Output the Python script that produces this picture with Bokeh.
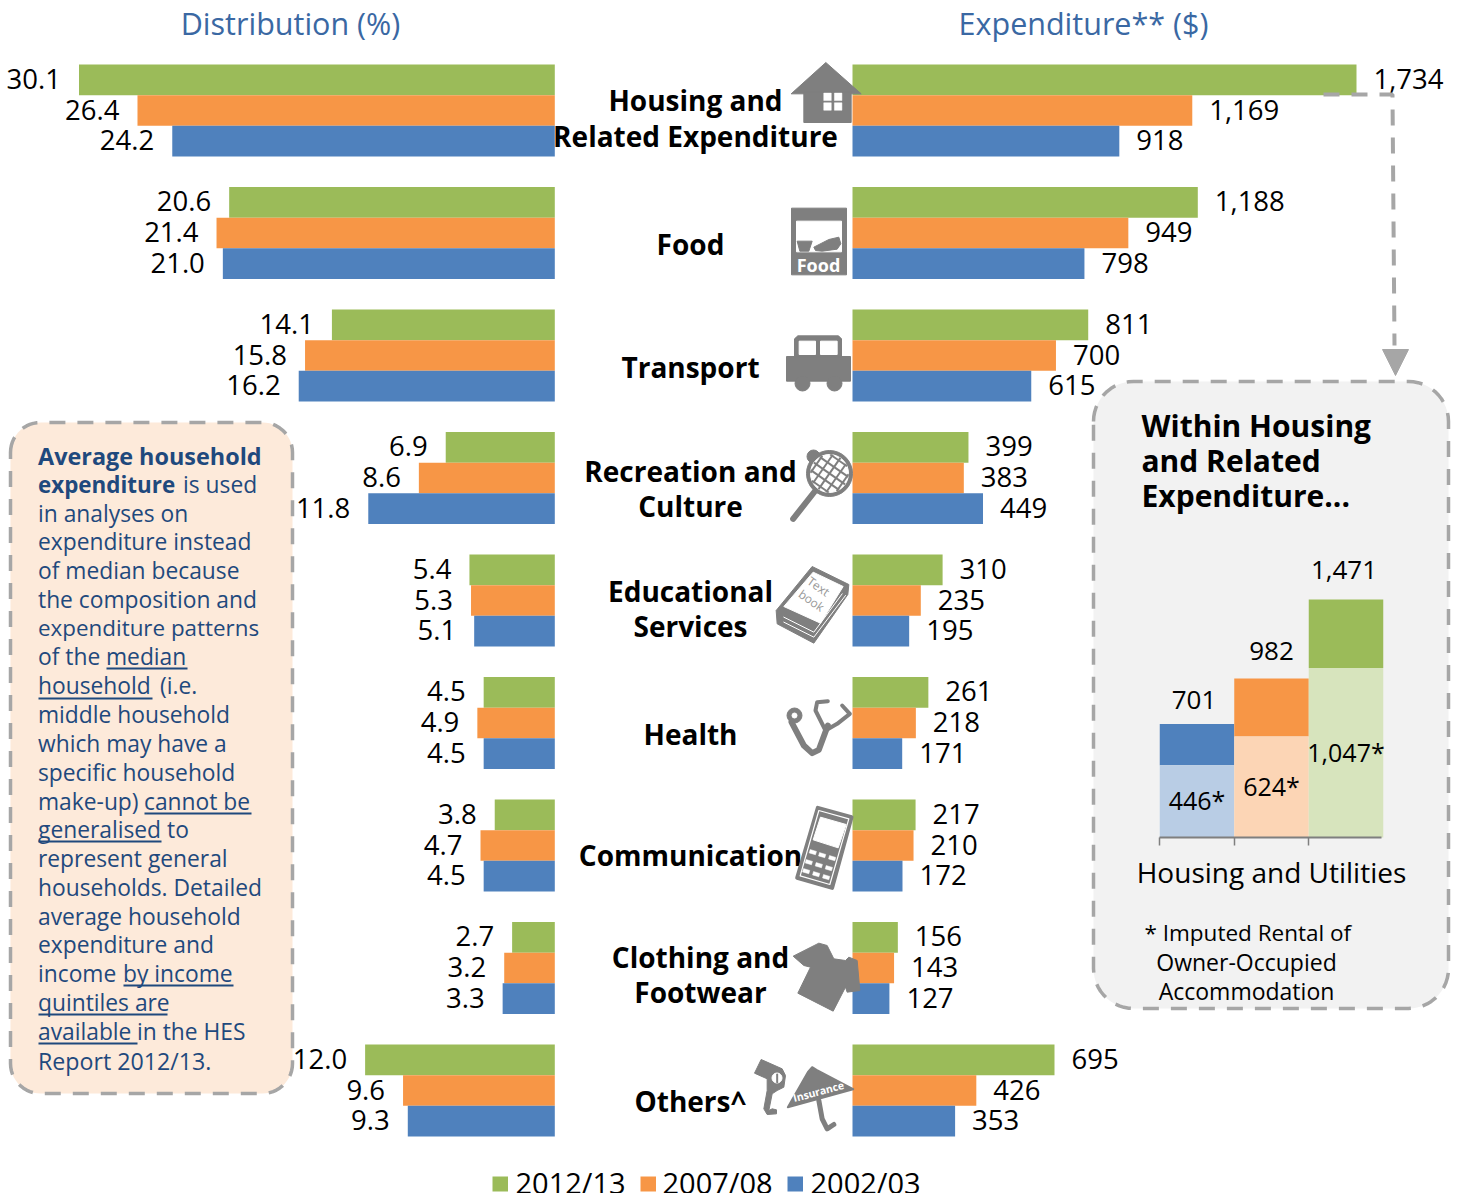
import math
import numpy as np
from bokeh.plotting import figure
from bokeh.models import Range1d
from bokeh.core.properties import value
from bokeh.embed import file_html
from bokeh.resources import INLINE

# ---------- data ----------
years = ["2012/13", "2007/08", "2002/03"]
pct_2012 = [30.1, 20.6, 14.1, 6.9, 5.4, 4.5, 3.8, 2.7, 12.0]
pct_2007 = [26.4, 21.4, 15.8, 8.6, 5.3, 4.9, 4.7, 3.2, 9.6]
pct_2002 = [24.2, 21.0, 16.2, 11.8, 5.1, 4.5, 4.5, 3.3, 9.3]
exp_2012 = [1734, 1188, 811, 399, 310, 261, 217, 156, 695]
exp_2007 = [1169, 949, 700, 383, 235, 218, 210, 143, 426]
exp_2002 = [918, 798, 615, 449, 195, 171, 172, 127, 353]
inset_total = [701, 982, 1471]
inset_imputed = [446, 624, 1047]

GREEN, ORANGE, BLUE = "#9BBB59", "#F79646", "#4F81BD"
LGREEN, LORANGE, LBLUE = "#D7E4BD", "#FCD5B5", "#B9CDE5"
GREY, ICON, NAVY, TITLE = "#A6A6A6", "#7F7F7F", "#1F497D", "#3A68A3"
FONT = "Open Sans"

# ---------- scales (the default range is page pixels) ----------
L, R, T_, B = 0, 1456, 0, 1193
p = figure(width=R - L, height=B - T_, output_backend="svg", toolbar_location=None,
           x_range=Range1d(L, R), y_range=Range1d(B, T_),
           x_axis_location=None, y_axis_location=None, min_border=0,
           outline_line_color=None, background_fill_color="white", border_fill_color="white")
p.xgrid.visible = False
p.ygrid.visible = False

kp, zp = (554.3 - 78.5) / 30.1, 554.3
ke, ze = (1356 - 852) / 1734, 852
kg, zg = 122.5, 110
ki, zi = 74.5, 1196.5
kv, zv = 0.1618, 837
p.extra_x_ranges = {
    "pct": Range1d((zp - L) / kp, (zp - R) / kp),
    "exp": Range1d((L - ze) / ke, (R - ze) / ke),
    "ins": Range1d((L - zi) / ki, (R - zi) / ki),
}
p.extra_y_ranges = {
    "grp": Range1d((B - zg) / kg, (T_ - zg) / kg),
    "val": Range1d((zv - B) / kv, (zv - T_) / kv),
}


def T(x, y, s, size, color="#000000", align="center", bold=False, angle=0, **kw):
    p.text(x=[x], y=[y - 2], text=[s], text_font=value(FONT), text_font_size=f"{size}px",
           text_color=color, text_align=align, text_baseline="middle",
           text_font_style="bold" if bold else "normal", angle=math.radians(angle), **kw)


def rbox(x0, y0, x1, y1, r, fill):
    t = np.linspace(0, math.pi / 2, 14)
    xs = np.concatenate([x0 + r - r * np.cos(t), x1 - r + r * np.sin(t),
                         x1 - r + r * np.cos(t), x0 + r - r * np.sin(t)])
    ys = np.concatenate([y0 + r - r * np.sin(t), y0 + r - r * np.cos(t),
                         y1 - r + r * np.sin(t), y1 - r + r * np.cos(t)])
    p.patch(xs, ys, fill_color=fill, line_color=GREY, line_width=3.5, line_dash="16 12")


def Z(pts, ox, oy):
    return [q[0] / 3 + ox for q in pts], [q[1] / 3 + oy for q in pts]


def poly(pts, ox, oy, color=ICON, lw=1):
    xs, ys = Z(pts, ox, oy)
    p.patch(xs, ys, fill_color=color, line_color=color, line_width=lw, line_join="round")


def lines(pts, ox, oy, width=3, color=ICON):
    xs, ys = Z(pts, ox, oy)
    p.line(xs, ys, line_color=color, line_width=width, line_cap="round", line_join="round")


def rrect(cx, cy, w, h, deg, color):
    a = math.radians(deg)
    cs, sn = math.cos(a), math.sin(a)
    xs, ys = [], []
    for dx, dy in [(-w / 2, -h / 2), (w / 2, -h / 2), (w / 2, h / 2), (-w / 2, h / 2)]:
        xs.append(cx + dx * cs - dy * sn)
        ys.append(cy + dx * sn + dy * cs)
    p.patch(xs, ys, fill_color=color, line_color=color, line_width=0.5)


# ---------- panels ----------
rbox(10, 422, 292, 1093, 30, "#FDEADA")
rbox(1093, 381, 1448, 1008, 40, "#F2F2F2")

# ---------- bars ----------
cats = list(range(len(pct_2012)))
h = 30.6 / kg
for off, vals_p, vals_e, col in [(-0.25, pct_2012, exp_2012, GREEN),
                                 (0.0, pct_2007, exp_2007, ORANGE),
                                 (0.25, pct_2002, exp_2002, BLUE)]:
    ys = [c + off for c in cats]
    p.hbar(y=ys, left=0, right=vals_p, height=h, color=col, line_color=None,
           x_range_name="pct", y_range_name="grp")
    p.hbar(y=ys, left=0, right=vals_e, height=h, color=col, line_color=None,
           x_range_name="exp", y_range_name="grp")
    p.text(x=vals_p, y=ys, text=[f"{v:.1f}" for v in vals_p], x_offset=-18, y_offset=-1,
           text_font=value(FONT), text_font_size="27.5px", text_color="#000000",
           text_align="right", text_baseline="middle", x_range_name="pct", y_range_name="grp")
    p.text(x=vals_e, y=ys, text=[f"{v:,}" for v in vals_e], x_offset=17, y_offset=-1,
           text_font=value(FONT), text_font_size="27.5px", text_color="#000000",
           text_align="left", text_baseline="middle", x_range_name="exp", y_range_name="grp")

# ---------- titles and legend ----------
T(290, 24, "Distribution (%)", 30.5, TITLE)
T(1083, 24, "Expenditure** ($)", 30.5, TITLE)
for x0, tx, lab, col in [(492, 515, years[0], GREEN), (640, 662, years[1], ORANGE), (787, 810, years[2], BLUE)]:
    p.quad(left=[x0], right=[x0 + 15.5], top=[1176], bottom=[1191], color=col, line_color=None)
    T(tx, 1184, lab, 29, align="left")

# ---------- category names ----------
for x, y, s in [(695, 101, "Housing and"), (695, 137, "Related Expenditure"), (690, 245, "Food"),
                (690, 368, "Transport"), (690, 472, "Recreation and"), (690, 507, "Culture"),
                (690, 592, "Educational"), (690, 627, "Services"), (690, 735, "Health"),
                (690, 856, "Communication"), (700, 958, "Clothing and"), (700, 993, "Footwear"),
                (690, 1102, "Others^")]:
    T(x, y, s, 28, bold=True)

# ---------- left note ----------
note = [
    (456, [(38, "Average household", 23.4, True)]),
    (485, [(38, "expenditure", 22.4, True), (183, "is used", 22.8, False)]),
    (514, [(38, "in analyses on", 22.8, False)]),
    (542, [(38, "expenditure instead", 22.8, False)]),
    (571, [(38, "of median because", 22.8, False)]),
    (600, [(38, "the composition and", 22.8, False)]),
    (628, [(38, "expenditure patterns", 22.4, False)]),
    (657, [(38, "of the", 22.8, False), (106, "median", 22.8, False)]),
    (686, [(38, "household", 22.8, False), (160, "(i.e.", 22.8, False)]),
    (715, [(38, "middle household", 22.8, False)]),
    (744, [(38, "which may have a", 22.8, False)]),
    (773, [(38, "specific household", 22.8, False)]),
    (802, [(38, "make-up)", 22.8, False), (144, "cannot be", 22.8, False)]),
    (830, [(38, "generalised", 22.8, False), (167, "to", 22.8, False)]),
    (859, [(38, "represent general", 22.8, False)]),
    (888, [(38, "households. Detailed", 22.8, False)]),
    (917, [(38, "average household", 22.8, False)]),
    (945, [(38, "expenditure and", 22.8, False)]),
    (974, [(38, "income", 22.8, False), (123, "by income", 22.8, False)]),
    (1003, [(38, "quintiles are", 22.8, False)]),
    (1032, [(38, "available", 22.8, False), (137, "in the HES", 22.8, False)]),
    (1061, [(38, "Report 2012/13.", 23.2, False)]),
]
for y, runs in note:
    for x, s, size, b in runs:
        T(x - 0.5, y + 1, s, size, NAVY, align="left", bold=b)
for y, x0, x1 in [(668, 106, 187), (698, 38, 152), (813, 144, 251), (841, 38, 161),
                  (985, 123, 233), (1014, 38, 167), (1043, 38, 137)]:
    p.line([x0, x1], [y, y], line_color=NAVY, line_width=1.8)

# ---------- connector ----------
p.line([1323, 1392, 1394], [94, 94, 345], line_color=GREY, line_width=4, line_dash="16 12")
p.patch([1382, 1408, 1395], [349, 349, 375], fill_color=GREY, line_color=GREY)

# ---------- inset ----------
for y, s in [(426, "Within Housing"), (461, "and Related"), (496, "Expenditure...")]:
    T(1141, y + 1, s, 30, align="left", bold=True)
ins_x = [0, 1, 2]
p.vbar(x=ins_x, bottom=inset_imputed, top=inset_total, width=1.0, color=[BLUE, ORANGE, GREEN],
       line_color=None, x_range_name="ins", y_range_name="val")
p.vbar(x=ins_x, bottom=0, top=inset_imputed, width=1.0, color=[LBLUE, LORANGE, LGREEN],
       line_color=None, x_range_name="ins", y_range_name="val")
p.text(x=ins_x, y=inset_total, text=[f"{v:,}" for v in inset_total],
       x_offset=[-3, 0, -2], y_offset=[-24, -28, -29],
       text_font=value(FONT), text_font_size="26px", text_align="center", text_baseline="middle",
       x_range_name="ins", y_range_name="val")
p.text(x=ins_x, y=[v / 2 for v in inset_imputed], text=[f"{v:,}*" for v in inset_imputed], y_offset=-1,
       text_font=value(FONT), text_font_size="25px", text_align="center", text_baseline="middle",
       x_range_name="ins", y_range_name="val")
p.line([1159, 1381], [837, 837], line_color=ICON, line_width=2)
p.segment([1159, 1234, 1308], [837] * 3, [1159, 1234, 1308], [845] * 3, line_color=ICON, line_width=1.5)
T(1271, 873, "Housing and Utilities", 28)
T(1144, 934, "* Imputed Rental of", 22.5, align="left")
T(1246, 963, "Owner-Occupied", 23)
T(1246, 992, "Accommodation", 23)

# ---------- icons ----------
# house
O = (550, 40)
poly([(722, 160), (826, 66), (932, 160)], *O)
poly([(760, 155), (902, 155), (902, 246), (760, 246)], *O)
for cx, cy in [(831, 169), (863, 169), (831, 198), (863, 198)]:
    rrect(cx / 3 + O[0], cy / 3 + O[1], 7.5, 7.5, 0, "#FFFFFF")
# food
poly([(723, 503), (888, 503), (888, 703), (723, 703)], *O)
poly([(738, 542), (873, 542), (873, 634), (738, 634)], *O, color="#FFFFFF")
poly([(740, 602), (785, 602), (775, 632), (748, 632)], *O)
poly([(790, 620), (835, 597), (865, 590), (871, 610), (860, 626), (815, 632), (795, 630)], *O)
T(818, 266, "Food", 18, "#FFFFFF", bold=True)
# bus
poly([(708, 948), (900, 948), (900, 1022), (708, 1022)], *O)
poly([(732, 895), (742, 886), (864, 886), (873, 895), (873, 950), (732, 950)], *O)
poly([(746, 902), (795, 902), (795, 942), (746, 942)], *O, color="#FFFFFF")
poly([(810, 902), (860, 902), (860, 942), (810, 942)], *O, color="#FFFFFF")
p.circle(x=[802, 834], y=[383, 383], radius=7.5, fill_color=ICON, line_color=ICON)
# racket
O = (570, 430)
lines([(668, 265), (735, 180)], *O, width=6)
p.circle(x=[813], y=[456], radius=6.5, fill_color=ICON, line_color=ICON)
p.circle(x=[829], y=[473], radius=23, fill_color=ICON, line_color=ICON)
p.circle(x=[829], y=[473], radius=19, fill_color="#FFFFFF", line_color="#FFFFFF")
for deg in (35, 125):
    a = math.radians(deg)
    for d in (-16, -8, 0, 8, 16):
        c = math.sqrt(19 ** 2 - d ** 2)
        ux, uy, nx, ny = math.cos(a), math.sin(a), -math.sin(a), math.cos(a)
        p.line([829 + nx * d - ux * c, 829 + nx * d + ux * c],
               [473 + ny * d - uy * c, 473 + ny * d + uy * c], line_color=ICON, line_width=2)
# book
poly([(725, 408), (835, 462), (832, 492), (730, 638), (620, 580), (617, 540)], *O)
poly([(728, 425), (818, 468), (750, 578), (640, 528)], *O, color="#FFFFFF")
lines([(640, 560), (730, 605), (815, 490)], *O, width=1, color="#FFFFFF")
lines([(640, 575), (730, 620), (825, 495)], *O, width=1, color="#FFFFFF")
T(818, 588, "Text", 12, "#999999", angle=-35)
T(811, 602, "book", 12, "#999999", angle=-35)
# stethoscope
lines([(663, 875), (700, 945), (725, 968), (745, 958), (772, 885)], *O, width=6)
lines([(765, 900), (735, 840), (740, 815), (772, 812)], *O, width=4)
lines([(765, 900), (800, 880), (838, 850), (815, 825)], *O, width=4)
p.circle(x=[794], y=[715], radius=7.5, fill_color=ICON, line_color=ICON)
p.circle(x=[794], y=[715], radius=2.5, fill_color="#FFFFFF", line_color="#FFFFFF")
# phone
O = (785, 800)
poly([(97, 22), (198, 50), (140, 262), (35, 232)], *O, lw=4)
p.patch(*Z([(100, 30), (190, 55), (133, 252), (44, 226)], *O), fill_color=ICON,
        line_color="#FFFFFF", line_width=1.2, line_join="round")
poly([(105, 50), (182, 72), (158, 142), (83, 118)], *O, color="#FFFFFF")
for cx, cy in [(82, 155), (110, 164), (140, 173), (70, 185), (100, 194), (130, 203),
               (62, 212), (92, 221), (122, 230)]:
    rrect(cx / 3 + O[0], cy / 3 + O[1], 6.5, 3.5, 16, "#FFFFFF")
# shirt
O = (570, 790)
poly([(668, 497), (745, 458), (770, 465), (790, 505), (825, 510), (835, 500), (860, 510),
      (868, 600), (830, 605), (825, 590), (788, 662), (682, 608), (720, 530), (700, 525)], *O)
# hair dryer and umbrella
O = (750, 1050)
poly([(32, 27), (95, 55), (105, 75), (100, 110), (80, 120), (65, 130), (55, 180), (65, 175),
      (78, 178), (78, 190), (50, 192), (40, 175), (50, 120), (50, 85), (12, 68)], *O)
p.circle(x=[776.5], y=[1077.5], radius=5, fill_color="#FFFFFF", line_color="#FFFFFF")
lines([(80, 72), (80, 95)], *O, width=2)
lines([(205, 150), (215, 205), (230, 235), (250, 222)], *O, width=5)
poly([(172, 65), (185, 50), (198, 58), (308, 116), (112, 170)], *O, lw=2)
T(818, 1093, "Insurance", 10.5, "#FFFFFF", bold=True, angle=15)

open("out.html", "w").write(file_html(p, INLINE))
